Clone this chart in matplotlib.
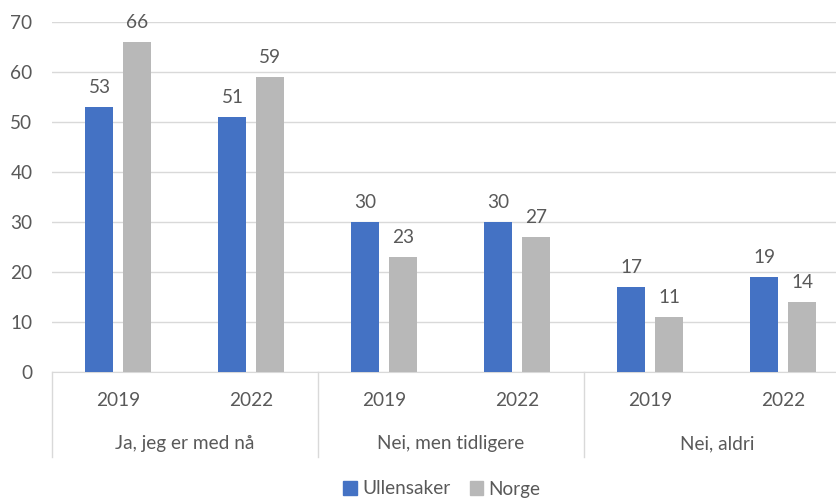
import matplotlib.pyplot as plt
from matplotlib.patches import Patch

groups = ["Ja, jeg er med nå", "Nei, men tidligere", "Nei, aldri"]
years = ["2019", "2022"]
series = ["Ullensaker", "Norge"]
ullensaker = [53, 51, 30, 30, 17, 19]
norge = [66, 59, 23, 27, 11, 14]
colors = ["#4472C4", "#B8B8B8"]
text_color = "#595959"
FS = 13.7

plt.rcParams['font.family'] = ['Lato', 'DejaVu Sans']

W, H = 837, 499
fig = plt.figure(figsize=(W / 100, H / 100), dpi=100)
left, right, top, bottom = 52, 837, 22, 372
ax = fig.add_axes([left / W, 1 - bottom / H, (right - left) / W, (bottom - top) / H])

cat_px = 133.0
xmax = -0.5 + (right - left) / cat_px
n = len(ullensaker)
xs = list(range(n))
bw = 28 / cat_px
off = 19 / cat_px

b1 = ax.bar([x - off for x in xs], ullensaker, width=bw, color=colors[0], zorder=3)
b2 = ax.bar([x + off for x in xs], norge, width=bw, color=colors[1], zorder=3)
for bars, vals in ((b1, ullensaker), (b2, norge)):
    for rect, v in zip(bars, vals):
        ax.annotate(str(v), (rect.get_x() + rect.get_width() / 2, v), xytext=(0, 8),
                    textcoords="offset points", ha="center", va="bottom",
                    fontsize=FS, color=text_color)

ax.set_xlim(-0.5, xmax)
ax.set_ylim(0, 70)
ax.set_yticks(range(0, 71, 10))
ax.tick_params(axis='y', length=0, labelsize=FS, labelcolor=text_color, pad=14)
ax.set_xticks([])
ax.grid(axis='y', color="#D9D9D9", linewidth=1, zorder=0)
for s in ["top", "right", "left"]:
    ax.spines[s].set_visible(False)
ax.spines["bottom"].set_color("#D9D9D9")

trans = ax.get_xaxis_transform()
# year labels
for i in xs:
    ax.text(i, -28 / (bottom - top), years[i % 2], transform=trans, ha="center", va="center",
            fontsize=FS, color=text_color, clip_on=False)
# group labels
for g, name in enumerate(groups):
    ax.text(2 * g + 0.5, -72 / (bottom - top), name, transform=trans, ha="center", va="center",
            fontsize=FS, color=text_color, clip_on=False)
# separators
for g in range(len(groups) + 1):
    xsep = 2 * g - 0.5
    if xsep <= xmax:
        ax.plot([xsep, xsep], [0, -85 / (bottom - top)], transform=trans, color="#D9D9D9",
                linewidth=1, clip_on=False)

handles = [Patch(color=colors[0], label=series[0]), Patch(color=colors[1], label=series[1])]
fig.legend(handles=handles, loc="center", bbox_to_anchor=(442 / W, 1 - 489 / H), ncol=2,
           frameon=False, fontsize=FS, labelcolor=text_color, handlelength=0.7,
           handleheight=0.7, handletextpad=0.3, columnspacing=1.0)

fig.savefig("out.png", dpi=100)
